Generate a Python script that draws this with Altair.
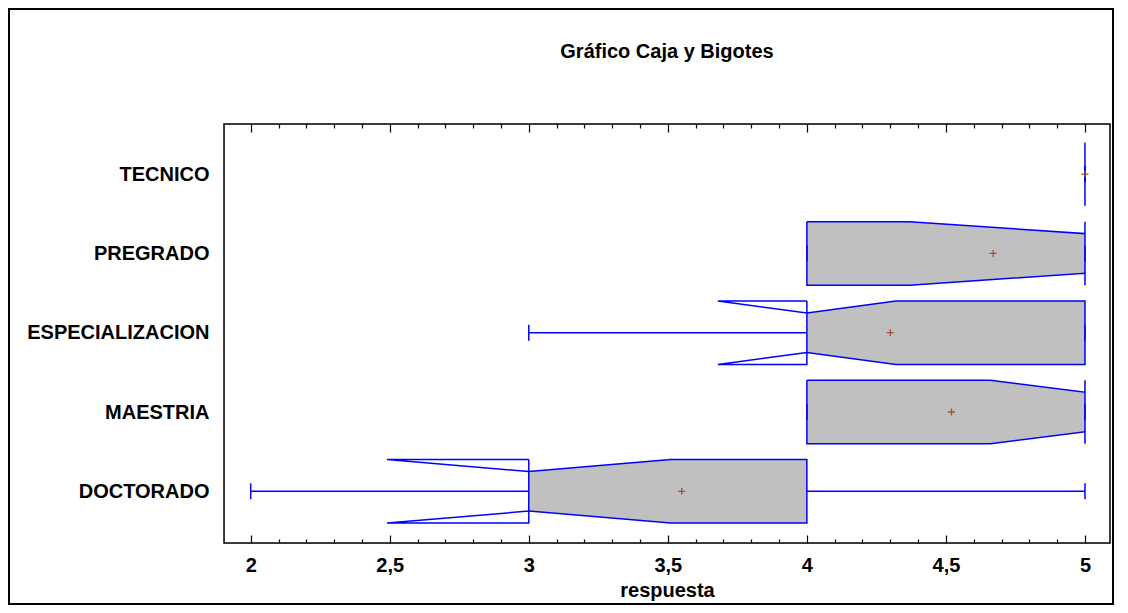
import altair as alt
import pandas as pd

# ---------------- data ----------------
categories = ["DOCTORADO", "MAESTRIA", "ESPECIALIZACION", "PREGRADO", "TECNICO"]
minimum = [2.0, 4.0, 3.0, 4.0, 5.0]
q1 = [3.0, 4.0, 4.0, 4.0, 5.0]
median = [3.0, 5.0, 4.0, 5.0, 5.0]
q3 = [4.0, 5.0, 5.0, 5.0, 5.0]
maximum = [5.0, 5.0, 5.0, 5.0, 5.0]
mean = [3.55, 4.52, 4.30, 4.67, 5.0]
notch_lo = [2.49, 4.66, 3.68, 4.37, 5.0]
notch_hi = [3.51, 5.0, 4.32, 5.0, 5.0]

x_major = [2.0, 2.5, 3.0, 3.5, 4.0, 4.5, 5.0]
x_minor = [2.1, 2.2, 2.3, 2.4, 2.6, 2.7, 2.8, 2.9,
           3.1, 3.2, 3.3, 3.4, 3.6, 3.7, 3.8, 3.9,
           4.1, 4.2, 4.3, 4.4, 4.6, 4.7, 4.8, 4.9]

title_text = "Gráfico Caja y Bigotes"
x_title = "respuesta"

# ---------------- styling ----------------
W, H = 886, 419
BOX = 0.40      # half height of box (in category units)
NOTCH = 0.25    # half height at the median notch
CAP = 0.10      # half height of whisker caps
BLUE = "#0000ff"
GRAY = "#c0c0c0"
MEANC = "#a0522d"
FONT = "Liberation Sans"
Y_LO, Y_HI = 0.348, 5.632

pos = [i + 1 for i in range(len(categories))]

# outline polygons (notched box)
out_rows = []
fill_rows = []
for c, p, a, lo, m, hi, b in zip(categories, pos, q1, notch_lo, median, notch_hi, q3):
    pts = [(a, BOX), (lo, BOX), (m, NOTCH), (hi, BOX), (b, BOX),
           (b, -BOX), (hi, -BOX), (m, -NOTCH), (lo, -BOX), (a, -BOX), (a, BOX)]
    for k, (xv, dv) in enumerate(pts):
        out_rows.append({"cat": c, "k": k, "x": xv, "y": p + dv})
    if b > a:
        fp = [(a, NOTCH if m == a else BOX)]
        for xv, hv in [(lo, BOX), (m, NOTCH), (hi, BOX)]:
            if a < xv < b:
                fp.append((xv, hv))
        fp.append((b, NOTCH if m == b else BOX))
        for xv, hv in fp:
            fill_rows.append({"cat": c, "x": xv, "lo": p - hv, "hi": p + hv})

outline = pd.DataFrame(out_rows)
fill = pd.DataFrame(fill_rows)

summary = pd.DataFrame({
    "cat": categories, "p": pos, "mn": minimum, "q1": q1, "q3": q3,
    "mx": maximum, "mean": mean,
})
summary["plo"] = summary["p"] - CAP
summary["phi"] = summary["p"] + CAP

major_df = pd.DataFrame({"tx": x_major})
minor_df = pd.DataFrame({"tx": x_minor})

xscale = alt.Scale(domain=[1.904, 5.09], nice=False, zero=False)
yscale = alt.Scale(domain=[Y_LO, Y_HI], nice=False, zero=False)

label_arr = "[" + ",".join("'" + c + "'" for c in categories) + "]"

# bottom axis: pulled 8 px inside the frame so its ticks point inward
x_axis = alt.Axis(values=x_major, labelExpr="replace('' + datum.value, '.', ',')",
                  orient="bottom", offset=-8,
                  ticks=True, tickSize=8, tickColor="black", tickWidth=1.2,
                  domain=False, grid=False,
                  labelFont=FONT, labelFontSize=20, labelFontWeight="bold",
                  labelColor="black", labelPadding=12,
                  title=x_title, titleFont=FONT, titleFontSize=20,
                  titleFontWeight="bold", titleColor="black", titlePadding=5)
y_axis = alt.Axis(values=pos, labelExpr=label_arr + "[datum.value - 1]",
                  ticks=False, tickSize=0, domain=False, grid=False,
                  labelFont=FONT, labelFontSize=20, labelFontWeight="bold",
                  labelColor="black", labelPadding=15, labelLimit=400, title=None)


def X(field):
    return alt.X(field, scale=xscale, axis=x_axis, title=x_title)


def Y(field):
    return alt.Y(field, scale=yscale, axis=y_axis, title=None)


fill_layer = alt.Chart(fill).mark_area(color=GRAY, opacity=1).encode(
    x=X("x:Q"), y=Y("lo:Q"), y2="hi:Q", detail="cat:N",
)

whisk_lo = alt.Chart(summary).mark_rule(color=BLUE, strokeWidth=1.5).encode(
    x=X("mn:Q"), x2="q1:Q", y=Y("p:Q"),
)
whisk_hi = alt.Chart(summary).mark_rule(color=BLUE, strokeWidth=1.5).encode(
    x=X("q3:Q"), x2="mx:Q", y=Y("p:Q"),
)
cap_lo = alt.Chart(summary).mark_rule(color=BLUE, strokeWidth=1.5).encode(
    x=X("mn:Q"), y=Y("plo:Q"), y2="phi:Q",
)
cap_hi = alt.Chart(summary).mark_rule(color=BLUE, strokeWidth=1.5).encode(
    x=X("mx:Q"), y=Y("plo:Q"), y2="phi:Q",
)

outline_layer = alt.Chart(outline).mark_line(color=BLUE, strokeWidth=1.5).encode(
    x=X("x:Q"), y=Y("y:Q"), detail="cat:N", order="k:Q",
)

mean_layer = alt.Chart(summary).mark_point(
    shape="M-1,0H1M0,-1V1", size=49, filled=False, color=MEANC, strokeWidth=1.3,
    opacity=1,
).encode(x=X("mean:Q"), y=Y("p:Q"))

main = alt.layer(fill_layer, whisk_lo, whisk_hi, cap_lo, cap_hi,
                 outline_layer, mean_layer)


# extra tick-only axes (minor bottom ticks, major/minor top ticks), all inward
def tick_axis(df, vals, orient, length):
    ax = alt.Axis(values=vals, orient=orient, offset=-length,
                  ticks=True, tickSize=length, tickColor="black", tickWidth=1.2,
                  labels=False, domain=False, grid=False, title=None)
    return alt.Chart(df).mark_point(opacity=0, size=1).encode(
        x=alt.X("tx:Q", scale=xscale, axis=ax, title=None),
    )


minor_bottom = tick_axis(minor_df, x_minor, "bottom", 4)
major_top = tick_axis(major_df, x_major, "top", 8)
minor_top = tick_axis(minor_df, x_minor, "top", 4)

# plot frame drawn as its own mark
frame = alt.Chart(pd.DataFrame({"f": [0]})).mark_rect(
    fillOpacity=0, stroke="black", strokeWidth=1.5,
).encode(x=alt.value(0), x2=alt.value(W), y=alt.value(0), y2=alt.value(H))

title_layer = alt.Chart(pd.DataFrame({"ttl": [title_text]})).mark_text(
    font=FONT, fontSize=20, fontWeight="bold", color="black",
    align="center", baseline="alphabetic",
).encode(text="ttl:N", x=alt.value(W / 2), y=alt.value(-66))

PAD_L, PAD_T, PAD_R, PAD_B = 216, 116, 4, 62
border = alt.Chart(pd.DataFrame({"one": [0]})).mark_rect(
    fillOpacity=0, stroke="black", strokeWidth=2,
).encode(
    x=alt.value(-PAD_L + 1), x2=alt.value(W + PAD_R - 1),
    y=alt.value(-PAD_T + 1), y2=alt.value(H + PAD_B - 1),
)

chart = alt.layer(
    main, minor_bottom, major_top, minor_top, frame, title_layer, border,
).resolve_axis(
    x="independent", y="independent",
).properties(
    width=W, height=H,
    autosize=alt.AutoSizeParams(type="none"),
    padding={"left": PAD_L, "top": PAD_T, "right": PAD_R, "bottom": PAD_B},
).configure(
    background="white",
)

chart.save("out.html", embed_options={"renderer": "svg", "actions": False})
